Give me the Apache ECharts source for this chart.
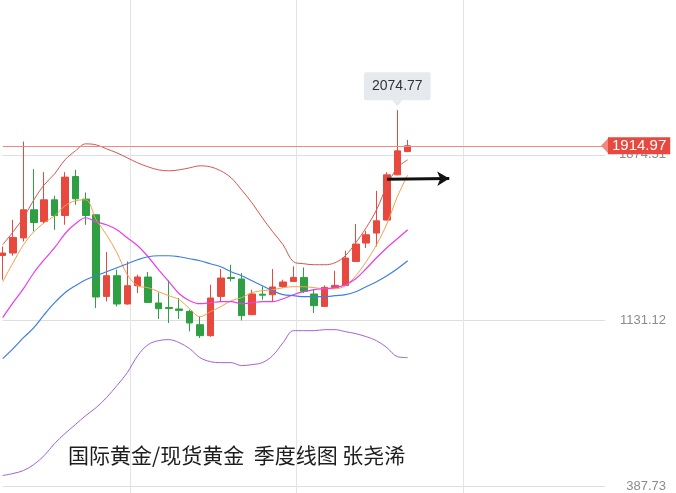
<!DOCTYPE html>
<html><head><meta charset="utf-8">
<script src="https://cdn.jsdelivr.net/npm/echarts@6/dist/echarts.min.js"></script>
<style>html,body{margin:0;padding:0;background:#fff}#c{width:676px;height:493px}</style>
</head><body><div id="c"></div>
<script>
// Quarterly categories (2011Q1 .. 2020Q4 have candles; later ones are empty space)
const categories = ['2011Q1','2011Q2','2011Q3','2011Q4','2012Q1','2012Q2','2012Q3','2012Q4',
 '2013Q1','2013Q2','2013Q3','2013Q4','2014Q1','2014Q2','2014Q3','2014Q4',
 '2015Q1','2015Q2','2015Q3','2015Q4','2016Q1','2016Q2','2016Q3','2016Q4',
 '2017Q1','2017Q2','2017Q3','2017Q4','2018Q1','2018Q2','2018Q3','2018Q4',
 '2019Q1','2019Q2','2019Q3','2019Q4','2020Q1','2020Q2','2020Q3','2020Q4',
 '2021Q1','2021Q2','2021Q3','2021Q4','2022Q1','2022Q2','2022Q3','2022Q4',
 '2023Q1','2023Q2','2023Q3','2023Q4','2024Q1','2024Q2','2024Q3','2024Q4',
 '2025Q1','2025Q2','2025Q3'];

const openP  = [1423.5,1434.3,1502.0,1628.2,1575.8,1672.9,1602.6,1777.3,1676.1,1605.8,
 1239.9,1332.6,1205.9,1287.8,1326.8,1210.4,1190.2,1183.5,1172.8,1113.2,
 1063.9,1239.9,1324.5,1317.8,1158.0,1249.8,1247.5,1284.7,1307.1,1325.0,
 1250.7,1195.1,1280.2,1289.2,1396.6,1479.0,1523.8,1582.0,1784.9,1889.2];
const closeP = [1434.3,1504.1,1628.2,1571.3,1672.9,1602.6,1774.6,1677.4,1602.6,1237.2,
 1332.6,1205.9,1287.8,1326.8,1213.0,1184.8,1185.7,1177.2,1120.8,1063.9,
 1232.8,1322.3,1320.1,1153.5,1250.7,1245.3,1282.0,1304.4,1325.0,1262.3,
 1198.3,1280.2,1289.2,1411.9,1474.6,1516.2,1578.9,1784.9,1892.4,1914.97];
const lowP   = [1314.7,1422.2,1486.2,1531.0,1568.6,1538.6,1561.0,1650.5,1561.0,1188.0,
 1217.5,1195.1,1203.0,1255.1,1211.0,1138.7,1120.8,1138.7,1083.2,1053.6,
 1059.0,1217.5,1307.1,1132.4,1155.7,1225.1,1217.5,1277.5,1305.8,1255.1,
 1165.6,1193.8,1278.9,1287.8,1395.3,1456.7,1463.8,1581.0,1782.7,1886.5];
const highP  = [1463.8,1583.4,1934.0,1810.4,1797.0,1690.9,1797.0,1807.3,1705.6,1608.0,
 1438.7,1359.5,1396.6,1337.1,1349.2,1257.8,1311.6,1232.8,1180.4,1150.4,
 1292.3,1362.6,1381.9,1344.7,1269.9,1284.7,1362.6,1314.7,1374.3,1369.8,
 1273.1,1289.2,1355.0,1444.6,1564.1,1534.1,1713.2,1797.0,2074.77,1941.6];

const bollUpper = [1471.4,1529.7,1592.4,1672.9,1740.1,1789.4,1852.1,1892.4,1923.7,1919.2,
 1901.3,1883.4,1861.0,1838.6,1820.7,1807.3,1802.8,1807.3,1816.2,1825.2,
 1820.7,1802.8,1771.5,1717.7,1659.5,1592.4,1529.7,1471.4,1395.3,1386.3,
 1381.9,1381.9,1390.8,1422.2,1480.4,1547.6,1628.2,1735.6,1816.2,1852.1];
const maOrange = [1305.7,1390.8,1471.4,1529.7,1569.9,1601.3,1646.1,1668.5,1672.9,1583.4,
 1516.2,1435.6,1337.1,1287.8,1278.9,1261.0,1243.1,1225.1,1184.8,1149.0,
 1171.4,1193.8,1220.7,1234.1,1256.5,1265.4,1269.9,1278.9,1283.4,1283.4,
 1278.9,1274.4,1274.4,1287.8,1332.6,1395.3,1471.4,1565.5,1686.4,1784.9];
const maMagenta = [1144.6,1211.7,1274.4,1346.0,1404.3,1458.0,1520.7,1565.5,1592.4,1574.4,
 1561.0,1538.6,1502.8,1467.0,1417.7,1359.5,1305.7,1252.0,1220.7,1207.2,
 1211.7,1216.2,1216.2,1207.2,1211.7,1216.2,1216.2,1229.6,1247.5,1261.0,
 1269.9,1274.4,1278.9,1292.3,1319.2,1364.0,1413.2,1458.0,1498.3,1538.6];
const bollMid = [960.9,1005.7,1055.0,1099.8,1158.0,1211.7,1256.5,1287.8,1314.7,1332.6,
 1350.5,1368.4,1386.3,1404.3,1417.7,1422.2,1422.2,1417.7,1408.7,1399.8,
 1386.3,1372.9,1350.5,1332.6,1310.2,1287.8,1265.4,1247.5,1243.1,1238.6,
 1238.6,1238.6,1243.1,1247.5,1261.0,1283.4,1305.7,1332.6,1364.0,1399.8];
const bollLower = [437.0,446.0,459.4,486.3,526.6,580.3,625.1,665.4,705.7,741.5,
 786.3,840.0,898.2,974.4,1023.6,1041.5,1046.0,1032.6,1005.7,965.4,
 947.5,943.0,943.0,929.6,934.1,943.0,974.4,1032.6,1086.3,1086.3,
 1086.3,1090.8,1090.8,1081.8,1072.9,1059.5,1041.5,1010.2,969.9,965.4];

const yTicks = [387.73, 1131.12, 1874.51];
const lastPrice = 1914.97;
const arrowFrom = ['2020Q2', 1765];
const arrowTo = ['2021Q4', 1768];
const titleText = '国际黄金/现货黄金  季度线图 张尧浠';

const UP = '#e8493f', DOWN = '#2ea043';
const candles = openP.map((o, i) => [o, closeP[i], lowP[i], highP[i]]);

const chart = echarts.init(document.getElementById('c'), null, {renderer: 'canvas'});
const lineS = (name, data, color, w) => ({
  name, type: 'line', data, xAxisIndex: 0, yAxisIndex: 0,
  showSymbol: false, smooth: 0.35, silent: true, clip: false,
  lineStyle: {color, width: w}, itemStyle: {color}, z: 3
});
chart.setOption({
  animation: false,
  backgroundColor: '#ffffff',
  title: {
    text: titleText, left: 68, top: 443, padding: 0,
    textStyle: {fontSize: 21, fontWeight: 'normal', color: '#1d1d1d',
      fontFamily: '"Noto Sans CJK SC", sans-serif', lineHeight: 24}
  },
  grid: [
    {left: 2.7, right: 71, top: 0, bottom: 0},
    {left: 130, width: 333, top: 0, bottom: 0}
  ],
  xAxis: [
    {type: 'category', data: categories, gridIndex: 0, boundaryGap: false,
     axisLine: {show: false}, axisTick: {show: false}, axisLabel: {show: false}, splitLine: {show: false}},
    {type: 'value', gridIndex: 1, min: 0, max: 2, interval: 1,
     axisLine: {show: false}, axisTick: {show: false}, axisLabel: {show: false},
     splitLine: {show: true, showMinLine: true, showMaxLine: true, lineStyle: {color: '#e4e4e4', width: 1}}}
  ],
  yAxis: [
    {type: 'value', gridIndex: 0, position: 'right', min: 360.8, max: 2568.6,
     axisLine: {show: false},
     axisTick: {show: false, customValues: yTicks},
     axisLabel: {customValues: yTicks, align: 'right', margin: 61, color: '#8c8c8c', fontSize: 13,
       fontFamily: '"Liberation Sans", Arial, sans-serif', formatter: v => v.toFixed(2)},
     splitLine: {show: true, lineStyle: {color: ['#dedede', '#dedede', '#dcdcee'], width: 1}}},
    {type: 'value', gridIndex: 1, min: 0, max: 1, show: false, splitLine: {show: false}}
  ],
  series: [
    {
      name: 'K', type: 'candlestick', data: candles, xAxisIndex: 0, yAxisIndex: 0,
      barWidth: 7, z: 2, clip: false,
      itemStyle: {color: UP, color0: DOWN, borderColor: UP, borderColor0: DOWN, borderWidth: 1},
      markPoint: {
        silent: true,
        symbol: 'path://M0,0L10,0L5,6Z', symbolSize: [10, 6], symbolOffset: [0, -7],
        itemStyle: {color: '#e6eaee'},
        label: {show: true, position: 'top', distance: 0, color: '#333', fontSize: 14,
          fontFamily: '"Liberation Sans", Arial, sans-serif',
          backgroundColor: '#e6eaee', padding: [7, 8], borderRadius: 2,
          formatter: p => Number(p.value).toFixed(2)},
        data: [{type: 'max', valueDim: 'highest'}]
      },
      markLine: {
        silent: true, precision: 2,
        symbol: ['none', 'path://M0,0L10,0L5,10Z'], symbolSize: [17, 8],
        lineStyle: {color: '#ef8a82', width: 1, type: 'solid'},
        itemStyle: {color: UP},
        label: {show: true, position: 'end', distance: 3, color: '#fff', fontSize: 15,
          fontFamily: '"Liberation Sans", Arial, sans-serif',
          backgroundColor: UP, padding: [1, 4], formatter: p => Number(p.value).toFixed(2)},
        data: [{yAxis: lastPrice}]
      }
    },
    lineS('upper', bollUpper, '#d4574c', 1),
    lineS('ma1', maOrange, '#f4a048', 1),
    lineS('ma2', maMagenta, '#ec3aec', 1.2),
    Object.assign(lineS('mid', bollMid, '#3d7ee6', 1.2), {
      markLine: {
        silent: true, symbol: ['none', 'arrow'], symbolSize: [11, 12],
        lineStyle: {color: '#111', width: 3, type: 'solid'}, label: {show: false},
        data: [[{coord: arrowFrom}, {coord: arrowTo}]]
      }
    }),
    lineS('lower', bollLower, '#a262dc', 1)
  ]
});
</script>
</body></html>
